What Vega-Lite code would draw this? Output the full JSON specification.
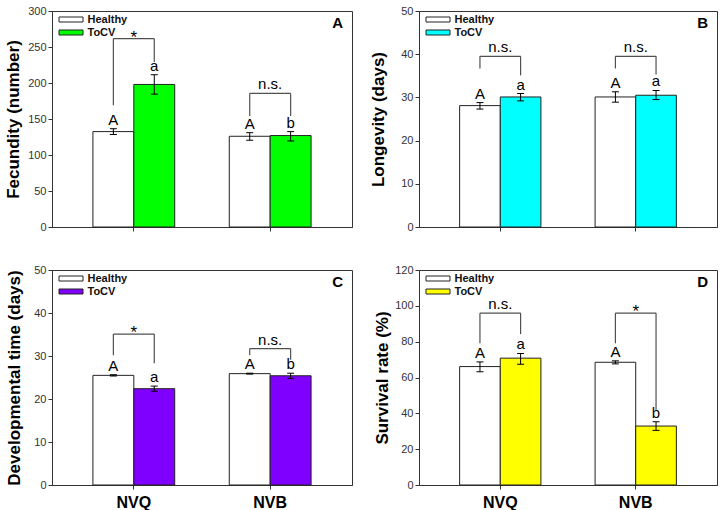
{
  "$schema": "https://vega.github.io/schema/vega-lite/v6.json",
  "autosize": {"type": "pad"},
  "padding": {"left": 4, "top": 4, "right": 0, "bottom": 0},
  "background": "#ffffff",
  "datasets": {
    "A": [
      {"site": "NVQ", "trt": "Healthy", "mean": 132.5, "lo": 128.5, "hi": 136.5, "letter": "A", "blo": 169, "btop": 261.5, "sig": "*"},
      {"site": "NVQ", "trt": "ToCV", "mean": 198, "lo": 184.5, "hi": 211.5, "letter": "a", "blo": 229, "btop": 261.5, "sig": "*"},
      {"site": "NVB", "trt": "Healthy", "mean": 126, "lo": 120.5, "hi": 131, "letter": "A", "blo": 154, "btop": 185.5, "sig": "n.s."},
      {"site": "NVB", "trt": "ToCV", "mean": 127, "lo": 119.5, "hi": 132.5, "letter": "b", "blo": 154, "btop": 185.5, "sig": "n.s."}
    ],
    "B": [
      {"site": "NVQ", "trt": "Healthy", "mean": 28.1, "lo": 27.3, "hi": 28.8, "letter": "A", "blo": 36.7, "btop": 39.5, "sig": "n.s."},
      {"site": "NVQ", "trt": "ToCV", "mean": 30.1, "lo": 29.2, "hi": 30.9, "letter": "a", "blo": 35.1, "btop": 39.5, "sig": "n.s."},
      {"site": "NVB", "trt": "Healthy", "mean": 30.1, "lo": 28.9, "hi": 31.3, "letter": "A", "blo": 36.7, "btop": 39.5, "sig": "n.s."},
      {"site": "NVB", "trt": "ToCV", "mean": 30.5, "lo": 29.5, "hi": 31.6, "letter": "a", "blo": 35.3, "btop": 39.5, "sig": "n.s."}
    ],
    "C": [
      {"site": "NVQ", "trt": "Healthy", "mean": 25.5, "lo": 25.35, "hi": 25.65, "letter": "A", "blo": 30.2, "btop": 35.1, "sig": "*"},
      {"site": "NVQ", "trt": "ToCV", "mean": 22.4, "lo": 21.8, "hi": 23.0, "letter": "a", "blo": 28.3, "btop": 35.1, "sig": "*"},
      {"site": "NVB", "trt": "Healthy", "mean": 25.9, "lo": 25.8, "hi": 26.0, "letter": "A", "blo": 30.2, "btop": 31.7, "sig": "n.s."},
      {"site": "NVB", "trt": "ToCV", "mean": 25.4, "lo": 24.8, "hi": 26.0, "letter": "b", "blo": 29.1, "btop": 31.7, "sig": "n.s."}
    ],
    "D": [
      {"site": "NVQ", "trt": "Healthy", "mean": 66.1, "lo": 63.2, "hi": 68.7, "letter": "A", "blo": 79.1, "btop": 95.9, "sig": "n.s."},
      {"site": "NVQ", "trt": "ToCV", "mean": 70.8, "lo": 67.4, "hi": 73.4, "letter": "a", "blo": 84.2, "btop": 95.9, "sig": "n.s."},
      {"site": "NVB", "trt": "Healthy", "mean": 68.5, "lo": 67.6, "hi": 69.3, "letter": "A", "blo": 79.1, "btop": 95.9, "sig": "*"},
      {"site": "NVB", "trt": "ToCV", "mean": 32.9, "lo": 30.5, "hi": 35.3, "letter": "b", "blo": 42.0, "btop": 95.9, "sig": "*"}
    ]
  },
  "columns": 2,
  "spacing": {"row": 43, "column": 67},
  "bounds": "flush",
  "resolve": {
    "scale": {"x": "independent", "y": "independent", "xOffset": "independent", "fill": "independent"},
    "legend": {"fill": "independent"}
  },
  "concat": [
    {
      "width": 300, "height": 216,
      "data": {"name": "A"},
      "title": {"text": "A", "anchor": "end", "offset": -26, "dx": -9, "fontSize": 15, "fontWeight": "bold", "color": "#000000"},
      "encoding": {
        "x": {"field": "site", "type": "nominal", "sort": ["NVQ", "NVB"], "scale": {"paddingInner": 0.4, "paddingOuter": 0.3},
              "axis": {"title": null, "labels": false, "ticks": true, "tickSize": 4}}
      },
      "layer": [
        {"mark": {"type": "bar", "stroke": "#222222", "strokeWidth": 1},
         "encoding": {
           "xOffset": {"field": "trt", "type": "nominal", "sort": ["Healthy", "ToCV"], "scale": {"paddingInner": 0, "paddingOuter": 0}},
           "y": {"field": "mean", "type": "quantitative", "scale": {"domain": [0, 300], "nice": false},
                 "axis": {"title": "Fecundity (number)", "values": [0, 50, 100, 150, 200, 250, 300], "tickCount": 7, "labelOverlap": false, "titlePadding": 5}},
           "fill": {"field": "trt", "type": "nominal", "scale": {"domain": ["Healthy", "ToCV"], "range": ["#ffffff", "#00ff00"]}}
         }},
        {"mark": {"type": "rule", "color": "#000000", "strokeWidth": 1},
         "encoding": {"xOffset": {"field": "trt", "sort": ["Healthy", "ToCV"]}, "y": {"field": "lo", "type": "quantitative"}, "y2": {"field": "hi"}}},
        {"mark": {"type": "tick", "orient": "horizontal", "size": 7, "thickness": 1, "color": "#000000", "opacity": 1},
         "encoding": {"xOffset": {"field": "trt", "sort": ["Healthy", "ToCV"]}, "y": {"field": "lo", "type": "quantitative"}}},
        {"mark": {"type": "tick", "orient": "horizontal", "size": 7, "thickness": 1, "color": "#000000", "opacity": 1},
         "encoding": {"xOffset": {"field": "trt", "sort": ["Healthy", "ToCV"]}, "y": {"field": "hi", "type": "quantitative"}}},
        {"mark": {"type": "text", "baseline": "alphabetic", "dy": -4, "fontSize": 15, "color": "#000000"},
         "encoding": {"xOffset": {"field": "trt", "sort": ["Healthy", "ToCV"]}, "y": {"field": "hi", "type": "quantitative"}, "text": {"field": "letter"}}},
        {"mark": {"type": "rule", "color": "#505050", "strokeWidth": 1.2},
         "encoding": {"xOffset": {"field": "trt", "sort": ["Healthy", "ToCV"]}, "y": {"field": "blo", "type": "quantitative"}, "y2": {"field": "btop"}}},
        {"transform": [{"filter": "datum.trt == 'Healthy'"}],
         "mark": {"type": "tick", "orient": "horizontal", "size": 41, "thickness": 1.2, "color": "#505050", "opacity": 1},
         "encoding": {"y": {"field": "btop", "type": "quantitative"}}},
        {"transform": [{"filter": "datum.trt == 'Healthy' && datum.sig == 'n.s.'"}],
         "mark": {"type": "text", "baseline": "alphabetic", "dy": -4, "fontSize": 15, "color": "#000000"},
         "encoding": {"y": {"field": "btop", "type": "quantitative"}, "text": {"field": "sig"}}},
        {"transform": [{"filter": "datum.trt == 'Healthy' && datum.sig == '*'"}],
         "mark": {"type": "text", "baseline": "alphabetic", "dy": 4, "fontSize": 17, "color": "#000000"},
         "encoding": {"y": {"field": "btop", "type": "quantitative"}, "text": {"field": "sig"}}}
      ]
    },
    {
      "width": 298, "height": 216,
      "data": {"name": "B"},
      "title": {"text": "B", "anchor": "end", "offset": -26, "dx": -9, "fontSize": 15, "fontWeight": "bold", "color": "#000000"},
      "encoding": {
        "x": {"field": "site", "type": "nominal", "sort": ["NVQ", "NVB"], "scale": {"paddingInner": 0.4, "paddingOuter": 0.3},
              "axis": {"title": null, "labels": false, "ticks": true, "tickSize": 4}}
      },
      "layer": [
        {"mark": {"type": "bar", "stroke": "#222222", "strokeWidth": 1},
         "encoding": {
           "xOffset": {"field": "trt", "type": "nominal", "sort": ["Healthy", "ToCV"], "scale": {"paddingInner": 0, "paddingOuter": 0}},
           "y": {"field": "mean", "type": "quantitative", "scale": {"domain": [0, 50], "nice": false},
                 "axis": {"title": "Longevity (days)", "values": [0, 10, 20, 30, 40, 50], "tickCount": 6, "labelOverlap": false, "titlePadding": 13}},
           "fill": {"field": "trt", "type": "nominal", "scale": {"domain": ["Healthy", "ToCV"], "range": ["#ffffff", "#00ffff"]}}
         }},
        {"mark": {"type": "rule", "color": "#000000", "strokeWidth": 1},
         "encoding": {"xOffset": {"field": "trt", "sort": ["Healthy", "ToCV"]}, "y": {"field": "lo", "type": "quantitative"}, "y2": {"field": "hi"}}},
        {"mark": {"type": "tick", "orient": "horizontal", "size": 7, "thickness": 1, "color": "#000000", "opacity": 1},
         "encoding": {"xOffset": {"field": "trt", "sort": ["Healthy", "ToCV"]}, "y": {"field": "lo", "type": "quantitative"}}},
        {"mark": {"type": "tick", "orient": "horizontal", "size": 7, "thickness": 1, "color": "#000000", "opacity": 1},
         "encoding": {"xOffset": {"field": "trt", "sort": ["Healthy", "ToCV"]}, "y": {"field": "hi", "type": "quantitative"}}},
        {"mark": {"type": "text", "baseline": "alphabetic", "dy": -4, "fontSize": 15, "color": "#000000"},
         "encoding": {"xOffset": {"field": "trt", "sort": ["Healthy", "ToCV"]}, "y": {"field": "hi", "type": "quantitative"}, "text": {"field": "letter"}}},
        {"mark": {"type": "rule", "color": "#505050", "strokeWidth": 1.2},
         "encoding": {"xOffset": {"field": "trt", "sort": ["Healthy", "ToCV"]}, "y": {"field": "blo", "type": "quantitative"}, "y2": {"field": "btop"}}},
        {"transform": [{"filter": "datum.trt == 'Healthy'"}],
         "mark": {"type": "tick", "orient": "horizontal", "size": 41, "thickness": 1.2, "color": "#505050", "opacity": 1},
         "encoding": {"y": {"field": "btop", "type": "quantitative"}}},
        {"transform": [{"filter": "datum.trt == 'Healthy' && datum.sig == 'n.s.'"}],
         "mark": {"type": "text", "baseline": "alphabetic", "dy": -4, "fontSize": 15, "color": "#000000"},
         "encoding": {"y": {"field": "btop", "type": "quantitative"}, "text": {"field": "sig"}}},
        {"transform": [{"filter": "datum.trt == 'Healthy' && datum.sig == '*'"}],
         "mark": {"type": "text", "baseline": "alphabetic", "dy": 4, "fontSize": 17, "color": "#000000"},
         "encoding": {"y": {"field": "btop", "type": "quantitative"}, "text": {"field": "sig"}}}
      ]
    },
    {
      "width": 300, "height": 215,
      "data": {"name": "C"},
      "title": {"text": "C", "anchor": "end", "offset": -26, "dx": -9, "fontSize": 15, "fontWeight": "bold", "color": "#000000"},
      "encoding": {
        "x": {"field": "site", "type": "nominal", "sort": ["NVQ", "NVB"], "scale": {"paddingInner": 0.4, "paddingOuter": 0.3},
              "axis": {"title": null, "labels": true, "ticks": true, "tickSize": 4, "labelFontSize": 16, "labelFontWeight": "bold", "labelColor": "#000000", "labelPadding": 5, "labelAngle": 0}}
      },
      "layer": [
        {"mark": {"type": "bar", "stroke": "#222222", "strokeWidth": 1},
         "encoding": {
           "xOffset": {"field": "trt", "type": "nominal", "sort": ["Healthy", "ToCV"], "scale": {"paddingInner": 0, "paddingOuter": 0}},
           "y": {"field": "mean", "type": "quantitative", "scale": {"domain": [0, 50], "nice": false},
                 "axis": {"title": "Developmental time (days)", "values": [0, 10, 20, 30, 40, 50], "tickCount": 6, "labelOverlap": false, "titlePadding": 10}},
           "fill": {"field": "trt", "type": "nominal", "scale": {"domain": ["Healthy", "ToCV"], "range": ["#ffffff", "#8000ff"]}}
         }},
        {"mark": {"type": "rule", "color": "#000000", "strokeWidth": 1},
         "encoding": {"xOffset": {"field": "trt", "sort": ["Healthy", "ToCV"]}, "y": {"field": "lo", "type": "quantitative"}, "y2": {"field": "hi"}}},
        {"mark": {"type": "tick", "orient": "horizontal", "size": 7, "thickness": 1, "color": "#000000", "opacity": 1},
         "encoding": {"xOffset": {"field": "trt", "sort": ["Healthy", "ToCV"]}, "y": {"field": "lo", "type": "quantitative"}}},
        {"mark": {"type": "tick", "orient": "horizontal", "size": 7, "thickness": 1, "color": "#000000", "opacity": 1},
         "encoding": {"xOffset": {"field": "trt", "sort": ["Healthy", "ToCV"]}, "y": {"field": "hi", "type": "quantitative"}}},
        {"mark": {"type": "text", "baseline": "alphabetic", "dy": -4, "fontSize": 15, "color": "#000000"},
         "encoding": {"xOffset": {"field": "trt", "sort": ["Healthy", "ToCV"]}, "y": {"field": "hi", "type": "quantitative"}, "text": {"field": "letter"}}},
        {"mark": {"type": "rule", "color": "#505050", "strokeWidth": 1.2},
         "encoding": {"xOffset": {"field": "trt", "sort": ["Healthy", "ToCV"]}, "y": {"field": "blo", "type": "quantitative"}, "y2": {"field": "btop"}}},
        {"transform": [{"filter": "datum.trt == 'Healthy'"}],
         "mark": {"type": "tick", "orient": "horizontal", "size": 41, "thickness": 1.2, "color": "#505050", "opacity": 1},
         "encoding": {"y": {"field": "btop", "type": "quantitative"}}},
        {"transform": [{"filter": "datum.trt == 'Healthy' && datum.sig == 'n.s.'"}],
         "mark": {"type": "text", "baseline": "alphabetic", "dy": -4, "fontSize": 15, "color": "#000000"},
         "encoding": {"y": {"field": "btop", "type": "quantitative"}, "text": {"field": "sig"}}},
        {"transform": [{"filter": "datum.trt == 'Healthy' && datum.sig == '*'"}],
         "mark": {"type": "text", "baseline": "alphabetic", "dy": 4, "fontSize": 17, "color": "#000000"},
         "encoding": {"y": {"field": "btop", "type": "quantitative"}, "text": {"field": "sig"}}}
      ]
    },
    {
      "width": 298, "height": 215,
      "data": {"name": "D"},
      "title": {"text": "D", "anchor": "end", "offset": -26, "dx": -9, "fontSize": 15, "fontWeight": "bold", "color": "#000000"},
      "encoding": {
        "x": {"field": "site", "type": "nominal", "sort": ["NVQ", "NVB"], "scale": {"paddingInner": 0.4, "paddingOuter": 0.3},
              "axis": {"title": null, "labels": true, "ticks": true, "tickSize": 4, "labelFontSize": 16, "labelFontWeight": "bold", "labelColor": "#000000", "labelPadding": 5, "labelAngle": 0}}
      },
      "layer": [
        {"mark": {"type": "bar", "stroke": "#222222", "strokeWidth": 1},
         "encoding": {
           "xOffset": {"field": "trt", "type": "nominal", "sort": ["Healthy", "ToCV"], "scale": {"paddingInner": 0, "paddingOuter": 0}},
           "y": {"field": "mean", "type": "quantitative", "scale": {"domain": [0, 120], "nice": false},
                 "axis": {"title": "Survival rate (%)", "values": [0, 20, 40, 60, 80, 100, 120], "tickCount": 7, "labelOverlap": false, "titlePadding": 3}},
           "fill": {"field": "trt", "type": "nominal", "scale": {"domain": ["Healthy", "ToCV"], "range": ["#ffffff", "#ffff00"]}}
         }},
        {"mark": {"type": "rule", "color": "#000000", "strokeWidth": 1},
         "encoding": {"xOffset": {"field": "trt", "sort": ["Healthy", "ToCV"]}, "y": {"field": "lo", "type": "quantitative"}, "y2": {"field": "hi"}}},
        {"mark": {"type": "tick", "orient": "horizontal", "size": 7, "thickness": 1, "color": "#000000", "opacity": 1},
         "encoding": {"xOffset": {"field": "trt", "sort": ["Healthy", "ToCV"]}, "y": {"field": "lo", "type": "quantitative"}}},
        {"mark": {"type": "tick", "orient": "horizontal", "size": 7, "thickness": 1, "color": "#000000", "opacity": 1},
         "encoding": {"xOffset": {"field": "trt", "sort": ["Healthy", "ToCV"]}, "y": {"field": "hi", "type": "quantitative"}}},
        {"mark": {"type": "text", "baseline": "alphabetic", "dy": -4, "fontSize": 15, "color": "#000000"},
         "encoding": {"xOffset": {"field": "trt", "sort": ["Healthy", "ToCV"]}, "y": {"field": "hi", "type": "quantitative"}, "text": {"field": "letter"}}},
        {"mark": {"type": "rule", "color": "#505050", "strokeWidth": 1.2},
         "encoding": {"xOffset": {"field": "trt", "sort": ["Healthy", "ToCV"]}, "y": {"field": "blo", "type": "quantitative"}, "y2": {"field": "btop"}}},
        {"transform": [{"filter": "datum.trt == 'Healthy'"}],
         "mark": {"type": "tick", "orient": "horizontal", "size": 41, "thickness": 1.2, "color": "#505050", "opacity": 1},
         "encoding": {"y": {"field": "btop", "type": "quantitative"}}},
        {"transform": [{"filter": "datum.trt == 'Healthy' && datum.sig == 'n.s.'"}],
         "mark": {"type": "text", "baseline": "alphabetic", "dy": -4, "fontSize": 15, "color": "#000000"},
         "encoding": {"y": {"field": "btop", "type": "quantitative"}, "text": {"field": "sig"}}},
        {"transform": [{"filter": "datum.trt == 'Healthy' && datum.sig == '*'"}],
         "mark": {"type": "text", "baseline": "alphabetic", "dy": 4, "fontSize": 17, "color": "#000000"},
         "encoding": {"y": {"field": "btop", "type": "quantitative"}, "text": {"field": "sig"}}}
      ]
    }
  ],
  "config": {
    "font": "Liberation Sans",
    "view": {"stroke": "#333333", "strokeWidth": 1},
    "axis": {
      "grid": false,
      "domainColor": "#333333",
      "tickColor": "#333333",
      "labelFont": "Liberation Sans",
      "labelFontSize": 11,
      "labelColor": "#333333",
      "labelOverlap": false,
      "titleFont": "Liberation Sans",
      "titleFontSize": 17,
      "titleFontWeight": "bold",
      "titleColor": "#000000",
      "tickSize": 4
    },
    "legend": {
      "orient": "none",
      "legendX": 13.5,
      "legendY": 3,
      "padding": 0,
      "title": null,
      "symbolType": "M-2.4,-0.5H2.4V0.5H-2.4Z",
      "symbolSize": 100,
      "symbolStrokeColor": "#222222",
      "symbolStrokeWidth": 1,
      "symbolOpacity": 1,
      "labelFont": "Liberation Sans",
      "labelFontSize": 11,
      "labelFontWeight": "bold",
      "labelColor": "#111111",
      "labelOffset": 11,
      "rowPadding": 1
    },
    "title": {"font": "Liberation Sans"}
  }
}
